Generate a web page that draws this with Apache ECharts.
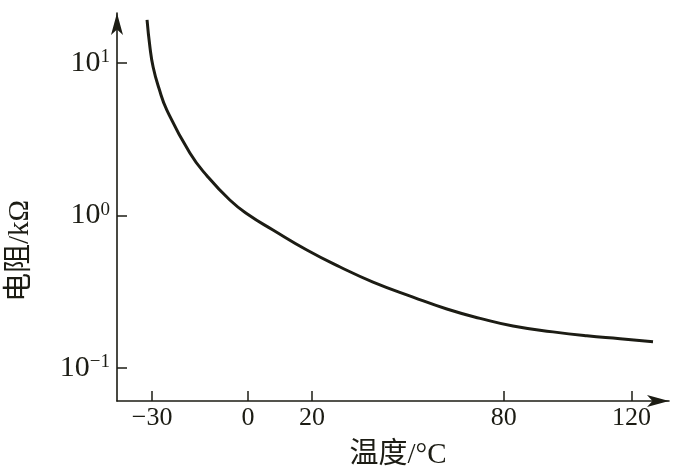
<!DOCTYPE html>
<html>
<head>
<meta charset="utf-8">
<script src="https://cdn.jsdelivr.net/npm/echarts@6/dist/echarts.min.js"></script>
<style>
html,body{margin:0;padding:0;background:#fff;}
#chart{width:681px;height:472px;}
</style>
</head>
<body>
<div id="chart"></div>
<script>
// Data (temperature in °C, resistance in kΩ)
var temperatures = [-31.6, -30.7, -29.7, -27.9, -25.4, -18.2, -12.8, -5.7, 0.0, 7.8, 18.4, 28.8, 39.1, 51.6, 62.2, 72.6, 82.9, 95.4, 106.0, 116.4, 126.7];
var resistances  = [19.1, 12.7, 9.39, 6.83, 4.90, 2.56, 1.81, 1.26, 1.012, 0.801, 0.592, 0.458, 0.365, 0.291, 0.243, 0.211, 0.188, 0.172, 0.162, 0.155, 0.148];
var xTickValues = [-30, 0, 20, 80, 120];
var yTickValues = [0.1, 1, 10];
var xAxisName = '温度/°C';
var yAxisName = '电阻/kΩ';

var points = temperatures.map(function (t, i) { return [t, resistances[i]]; });
var ink = '#1c1c14';
var fontFam = '"Liberation Serif", "Noto Sans CJK SC", serif';

var chart = echarts.init(document.getElementById('chart'));
chart.setOption({
  animation: false,
  backgroundColor: '#ffffff',
  grid: { left: 117, right: 12, top: 13, bottom: 71, containLabel: false, outerBoundsMode: 'none' },
  xAxis: {
    type: 'value',
    min: -41,
    max: 131.7,
    name: xAxisName,
    nameLocation: 'middle',
    nameGap: 40,
    nameTextStyle: { fontFamily: fontFam, fontSize: 29, color: ink, padding: [0, 0, 0, 10] },
    axisLine: { show: true, onZero: false, lineStyle: { color: ink, width: 1.6 }, symbol: ['none', 'arrow'], symbolSize: [9, 22] },
    axisTick: { show: true, inside: true, length: 10, lineStyle: { color: ink, width: 1.5 }, customValues: xTickValues },
    axisLabel: {
      customValues: xTickValues,
      margin: 4,
      fontFamily: fontFam, fontSize: 26, color: ink,
      formatter: function (v) { return v < 0 ? '\u2212' + Math.abs(v) : String(v); }
    },
    splitLine: { show: false }
  },
  yAxis: {
    type: 'log',
    logBase: 10,
    min: 0.06057,
    max: 21.21,
    name: yAxisName,
    nameLocation: 'middle',
    nameRotate: 90,
    nameGap: 82,
    nameTextStyle: { fontFamily: fontFam, fontSize: 29, color: ink, padding: [0, 88, 0, 0] },
    axisLine: { show: true, onZero: false, lineStyle: { color: ink, width: 1.6 }, symbol: ['none', 'arrow'], symbolSize: [9, 22] },
    axisTick: { show: true, inside: true, length: 10, lineStyle: { color: ink, width: 1.5 }, customValues: yTickValues },
    axisLabel: {
      customValues: yTickValues,
      margin: 7,
      fontFamily: fontFam, color: ink,
      formatter: function (v) {
        var e = Math.round(Math.log(v) / Math.LN10);
        return '{b|10}{s|' + (e < 0 ? '\u2212' + Math.abs(e) : e) + '}';
      },
      rich: {
        b: { fontFamily: fontFam, fontSize: 30, color: ink },
        s: { fontFamily: fontFam, fontSize: 19, color: ink, verticalAlign: 'top', padding: [0, 0, 10, 0] }
      }
    },
    splitLine: { show: false }
  },
  series: [{
    type: 'line',
    data: points,
    smooth: 0.5,
    showSymbol: false,
    lineStyle: { color: ink, width: 3 }
  }]
});
</script>
</body>
</html>
